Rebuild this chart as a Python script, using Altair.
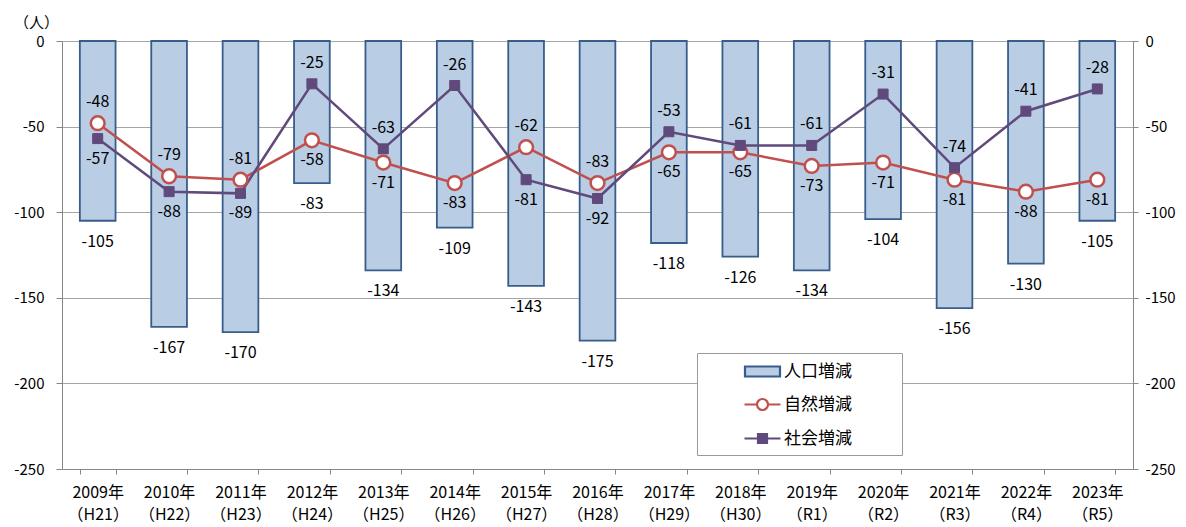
import altair as alt
import pandas as pd

years = ["2009年|（H21）", "2010年|（H22）", "2011年|（H23）", "2012年|（H24）", "2013年|（H25）",
         "2014年|（H26）", "2015年|（H27）", "2016年|（H28）", "2017年|（H29）", "2018年|（H30）",
         "2019年|（R1）", "2020年|（R2）", "2021年|（R3）", "2022年|（R4）", "2023年|（R5）"]
total = [-105, -167, -170, -83, -134, -109, -143, -175, -118, -126, -134, -104, -156, -130, -105]
natural = [-48, -79, -81, -58, -71, -83, -62, -83, -65, -65, -73, -71, -81, -88, -81]
social = [-57, -88, -89, -25, -63, -26, -81, -92, -53, -61, -61, -31, -74, -41, -28]
series_names = ["人口増減", "自然増減", "社会増減"]

rows = []
for name, vals in zip(series_names, [total, natural, social]):
    for y, v in zip(years, vals):
        rows.append({"year": y, "series": name, "value": v})
df = pd.DataFrame(rows)

FONT = "Noto Sans CJK JP"
fill_range = ["#B9CDE5", "#FFFFFF", "#604A7B"]
stroke_range = ["#385D8A", "#C0504D", "#604A7B"]
legend_shapes = [
    "M-1.75,-0.5H1.75V0.5H-1.75Z",
    "M-1.8,0H-0.55M0.55,0H1.8M-0.55,0A0.55,0.55 0 1,1 0.55,0A0.55,0.55 0 1,1 -0.55,0Z",
    "M-1.8,0H1.8M-0.45,-0.45H0.45V0.45H-0.45Z",
]

yscale = alt.Scale(domain=[-250, 0], nice=False, zero=False)
tick_vals = [0, -50, -100, -150, -200, -250]
left_axis = alt.Axis(values=tick_vals, grid=True, gridColor="#A6A6A6",
                     domainColor="#868686", tickColor="#868686", tickSize=6, labelPadding=12,
                     labelFontSize=15, labelFont=FONT, labelColor="#000000",
                     labelExpr="toString(datum.value)",
                     title="（人）", titleAngle=0, titleX=-26, titleY=-19, titleAlign="center",
                     titleBaseline="middle", titleFontSize=15, titleFontWeight="normal",
                     titleFont=FONT, titleColor="#000000")
right_axis = alt.Axis(orient="right", values=tick_vals, grid=False,
                      domainColor="#868686", tickColor="#868686", tickSize=5, labelPadding=7,
                      labelFontSize=15, labelFont=FONT, labelColor="#000000",
                      labelExpr="toString(datum.value)", title=None)

xenc = alt.X("year:N", sort=years, title=None,
             scale=alt.Scale(paddingInner=0.5, paddingOuter=0.25),
             axis=alt.Axis(tickBand="extent", labelExpr="split(datum.label, '|')",
                           labelAngle=0, labelFontSize=16, labelFont=FONT, labelColor="#000000",
                           labelLineHeight=22, labelPadding=10, labelOverlap=False,
                           domainColor="#868686", tickColor="#868686", tickSize=5))
yenc = alt.Y("value:Q", scale=yscale, axis=left_axis, title="（人）")

legend = alt.Legend(title=None, orient="none", legendX=635, legendY=312,
                    fillColor="#FFFFFF", strokeColor="#9A9A9A", padding=7,
                    symbolSize=400, symbolStrokeWidth=2.2, symbolOffset=47,
                    labelOffset=10, rowPadding=12, labelFontSize=17, labelFont=FONT,
                    labelColor="#000000",
                    labelExpr="datum.label + '\u3000\u3000\u2002\u200b'")
fill_enc = alt.Fill("series:N", scale=alt.Scale(domain=series_names, range=fill_range), legend=legend)
stroke_enc = alt.Stroke("series:N", scale=alt.Scale(domain=series_names, range=stroke_range), legend=legend)
shape_enc = alt.Shape("series:N", scale=alt.Scale(domain=series_names, range=legend_shapes), legend=legend)

base = alt.Chart(df)
bars_df = base.transform_filter(alt.datum.series == "人口増減")
lines_df = base.transform_filter(alt.datum.series != "人口増減")

bars = bars_df.mark_bar(strokeWidth=1.8).encode(x=xenc, y=yenc, fill=fill_enc, stroke=stroke_enc)
bar_text = bars_df.transform_calculate(lbl="toString(datum.value)").mark_text(
    dy=21, baseline="middle", fontSize=16, font=FONT, color="#000000").encode(
    x=xenc, y=yenc, text="lbl:N")
lines = lines_df.mark_line(strokeWidth=2.5).encode(x=xenc, y=yenc, stroke=stroke_enc, detail="series:N")

circles = base.transform_filter(alt.datum.series == "自然増減").mark_point(
    shape="circle", filled=True, size=190, strokeWidth=2.5, opacity=1).encode(
    x=xenc, y=yenc, fill=fill_enc, stroke=stroke_enc)
squares = base.transform_filter(alt.datum.series == "社会増減").mark_point(
    shape="square", filled=True, size=100, strokeWidth=1, opacity=1).encode(
    x=xenc, y=yenc, fill=fill_enc, stroke=stroke_enc)

# legend carrier: no rows, only provides the legend symbol shapes
legend_layer = base.transform_filter("false").mark_point(filled=True, opacity=1).encode(
    x=xenc, y=yenc, fill=fill_enc, stroke=stroke_enc, shape=shape_enc)

ranked = lines_df.transform_joinaggregate(maxv="max(value)", groupby=["year"]).transform_calculate(
    lbl="toString(datum.value)")
text_above = ranked.transform_filter("datum.value == datum.maxv").mark_text(
    dy=-21, baseline="middle", fontSize=16, font=FONT, color="#000000").encode(
    x=xenc, y=yenc, text="lbl:N")
text_below = ranked.transform_filter("datum.value != datum.maxv").mark_text(
    dy=20, baseline="middle", fontSize=16, font=FONT, color="#000000").encode(
    x=xenc, y=yenc, text="lbl:N")

inner = alt.layer(bars, bar_text, lines, circles, squares, legend_layer, text_above, text_below)

right = bars_df.mark_bar(opacity=0).encode(
    x=xenc, y=alt.Y("value:Q", scale=yscale, axis=right_axis))

chart = alt.layer(inner, right).resolve_scale(y="independent").properties(
    width=1071, height=428,
    autosize=alt.AutoSizeParams(type="none"),
    padding={"left": 54, "top": 33, "right": 45, "bottom": 57},
).configure_view(stroke=None)

chart.save("out.html", embed_options={"renderer": "svg", "actions": False})
